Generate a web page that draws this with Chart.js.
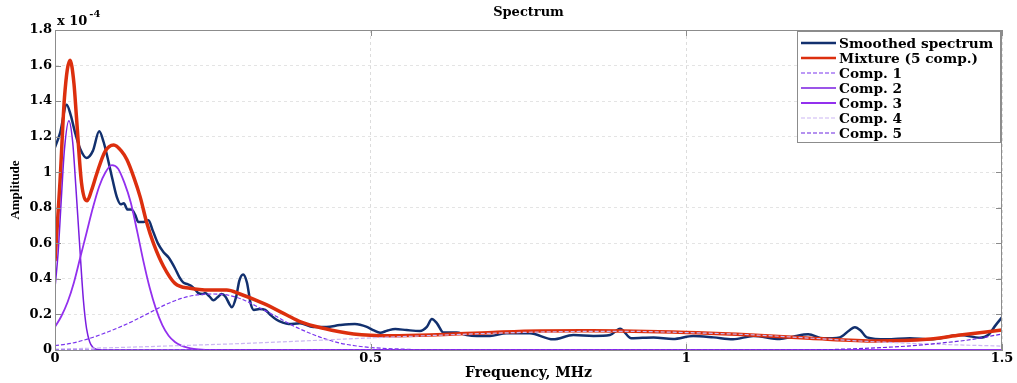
<!DOCTYPE html>
<html>
<head>
<meta charset="utf-8">
<script src="https://cdn.jsdelivr.net/npm/chart.js@4.4.1/dist/chart.umd.min.js"></script>
<style>
  html, body { margin: 0; padding: 0; background: #fff; }
  #wrap { width: 1017px; height: 383px; }
</style>
</head>
<body>
<div id="wrap"><canvas id="spectrumChart" width="1017" height="383"></canvas></div>
<script>
// values are in units of 1e-4 (see the "x 10^-4" note on the axis)
const yTickLabels = ['0', '0.2', '0.4', '0.6', '0.8', '1', '1.2', '1.4', '1.6', '1.8'];
const xTickLabels = ['0', '0.5', '1', '1.5'];

const spectrumFreq = [0, 0.008, 0.0185, 0.025, 0.032, 0.04, 0.05, 0.06, 0.07, 0.077, 0.084, 0.091, 0.098, 0.104, 0.109, 0.115, 0.121, 0.127, 0.132, 0.14, 0.148, 0.155, 0.163, 0.172, 0.18, 0.19, 0.197, 0.203, 0.21, 0.216, 0.222, 0.227, 0.233, 0.238, 0.245, 0.251, 0.257, 0.264, 0.27, 0.276, 0.28, 0.287, 0.292, 0.298, 0.304, 0.31, 0.315, 0.324, 0.333, 0.342, 0.351, 0.36, 0.37, 0.388, 0.409, 0.43, 0.451, 0.475, 0.494, 0.505, 0.515, 0.527, 0.539, 0.557, 0.578, 0.589, 0.597, 0.605, 0.615, 0.636, 0.652, 0.668, 0.689, 0.715, 0.752, 0.789, 0.821, 0.853, 0.879, 0.895, 0.913, 0.948, 0.979, 1.011, 1.043, 1.074, 1.106, 1.148, 1.169, 1.193, 1.217, 1.243, 1.258, 1.267, 1.276, 1.286, 1.317, 1.354, 1.386, 1.434, 1.465, 1.478, 1.49, 1.5];
const spectrumAmp = [1.14, 1.22, 1.38, 1.32, 1.22, 1.13, 1.08, 1.12, 1.23, 1.17, 1.07, 0.96, 0.86, 0.82, 0.825, 0.79, 0.79, 0.76, 0.72, 0.72, 0.73, 0.67, 0.6, 0.55, 0.52, 0.46, 0.41, 0.38, 0.37, 0.36, 0.34, 0.32, 0.315, 0.32, 0.3, 0.28, 0.295, 0.315, 0.3, 0.26, 0.24, 0.3, 0.39, 0.425, 0.38, 0.26, 0.225, 0.23, 0.225, 0.195, 0.17, 0.155, 0.146, 0.15, 0.13, 0.13, 0.14, 0.146, 0.13, 0.11, 0.097, 0.11, 0.118, 0.112, 0.107, 0.13, 0.174, 0.15, 0.099, 0.099, 0.084, 0.079, 0.079, 0.094, 0.094, 0.06, 0.084, 0.079, 0.084, 0.12, 0.066, 0.071, 0.062, 0.079, 0.071, 0.06, 0.079, 0.062, 0.075, 0.088, 0.066, 0.071, 0.11, 0.128, 0.11, 0.071, 0.06, 0.066, 0.06, 0.084, 0.069, 0.084, 0.14, 0.184];

const mixtureFreq = [0, 0.008, 0.015, 0.0238, 0.03, 0.034, 0.042, 0.051, 0.058, 0.066, 0.079, 0.093, 0.105, 0.114, 0.125, 0.135, 0.145, 0.156, 0.172, 0.19, 0.214, 0.246, 0.272, 0.293, 0.33, 0.367, 0.388, 0.425, 0.473, 0.531, 0.594, 0.694, 0.768, 0.85, 1.0, 1.08, 1.196, 1.302, 1.381, 1.434, 1.5];
const mixtureAmp = [0.5, 0.95, 1.42, 1.63, 1.5, 1.31, 0.94, 0.84, 0.9, 0.99, 1.115, 1.153, 1.12, 1.07, 0.97, 0.86, 0.72, 0.6, 0.47, 0.375, 0.347, 0.337, 0.337, 0.315, 0.262, 0.197, 0.16, 0.122, 0.09, 0.08, 0.084, 0.099, 0.107, 0.108, 0.099, 0.088, 0.066, 0.051, 0.06, 0.084, 0.112];

const comp1Freq = [0, 0.025, 0.05, 0.075, 0.1, 0.125, 0.15, 0.175, 0.2, 0.225, 0.25, 0.275, 0.3, 0.325, 0.35, 0.375, 0.4, 0.425, 0.45, 0.475, 0.5, 0.55, 0.6, 1.5];
const comp1Amp = [0.025, 0.037, 0.06, 0.09, 0.125, 0.165, 0.21, 0.255, 0.29, 0.31, 0.315, 0.308, 0.28, 0.235, 0.19, 0.14, 0.1, 0.066, 0.04, 0.024, 0.014, 0.005, 0, 0];

const comp2Freq = [0, 0.005, 0.01, 0.015, 0.022, 0.028, 0.033, 0.0385, 0.045, 0.05, 0.055, 0.06, 0.065, 0.075, 1.5];
const comp2Amp = [0.35, 0.55, 0.85, 1.13, 1.29, 1.17, 0.92, 0.62, 0.28, 0.12, 0.045, 0.015, 0.004, 0, 0];

const comp3Freq = [0, 0.01, 0.02, 0.03, 0.04, 0.05, 0.06, 0.07, 0.08, 0.09, 0.1, 0.11, 0.12, 0.13, 0.14, 0.15, 0.16, 0.17, 0.18, 0.19, 0.2, 0.21, 0.22, 0.24, 0.26, 1.5];
const comp3Amp = [0.13, 0.19, 0.27, 0.38, 0.52, 0.66, 0.8, 0.92, 1.0, 1.04, 1.02, 0.94, 0.83, 0.67, 0.5, 0.35, 0.23, 0.14, 0.08, 0.045, 0.025, 0.013, 0.006, 0.001, 0, 0];

const comp4Freq = [0, 0.1, 0.2, 0.3, 0.4, 0.5, 0.6, 0.7, 0.8, 0.9, 1.0, 1.1, 1.2, 1.3, 1.4, 1.5];
const comp4Amp = [0.005, 0.014, 0.025, 0.037, 0.052, 0.068, 0.082, 0.095, 0.103, 0.105, 0.098, 0.086, 0.066, 0.046, 0.032, 0.022];

const comp5Freq = [0, 1.2, 1.25, 1.3, 1.35, 1.4, 1.45, 1.5];
const comp5Amp = [0, 0, 0.005, 0.012, 0.022, 0.038, 0.058, 0.09];

function pairUp(xs, ys) {
  return xs.map((x, i) => ({ x: x, y: ys[i] }));
}

const serif = '"DejaVu Serif", "Liberation Serif", serif';

// box round the axes, inward ticks and the exponent note
const axesBox = {
  id: 'axesBox',
  afterDatasetsDraw(chart) {
    const { ctx, chartArea: a, scales } = chart;
    ctx.save();
    ctx.strokeStyle = '#8c8c8c';
    ctx.lineWidth = 1;
    ctx.strokeRect(a.left + 0.5, a.top + 0.5, a.right - a.left - 1, a.bottom - a.top);
    ctx.beginPath();
    scales.y.ticks.forEach(t => {
      const y = Math.round(scales.y.getPixelForValue(t.value)) + 0.5;
      ctx.moveTo(a.left, y); ctx.lineTo(a.left + 6, y);
      ctx.moveTo(a.right, y); ctx.lineTo(a.right - 6, y);
    });
    scales.x.ticks.forEach(t => {
      const x = Math.round(scales.x.getPixelForValue(t.value)) + 0.5;
      ctx.moveTo(x, a.bottom); ctx.lineTo(x, a.bottom - 6);
      ctx.moveTo(x, a.top); ctx.lineTo(x, a.top + 6);
    });
    ctx.stroke();

    ctx.fillStyle = '#000';
    ctx.textBaseline = 'alphabetic';
    ctx.font = 'bold 13px ' + serif;
    ctx.fillText('x 10', a.left + 2, a.top - 5);
    const w = ctx.measureText('x 10').width;
    ctx.font = 'bold 10px ' + serif;
    ctx.fillText('-4', a.left + 4 + w, a.top - 13);
    ctx.restore();
  }
};

const boxLegend = {
  id: 'boxLegend',
  afterDatasetsDraw(chart) {
    const { ctx, chartArea: a } = chart;
    const x0 = a.right - 205, y0 = a.top + 1, w = 203, h = 111;
    ctx.save();
    ctx.fillStyle = '#fff';
    ctx.fillRect(x0, y0, w, h);
    ctx.strokeStyle = '#8c8c8c';
    ctx.lineWidth = 1;
    ctx.strokeRect(x0 + 0.5, y0 + 0.5, w, h);
    ctx.font = 'bold 13.7px ' + serif;
    ctx.textBaseline = 'middle';
    chart.data.datasets.forEach((ds, i) => {
      const y = y0 + 12 + i * 15;
      ctx.beginPath();
      ctx.setLineDash(ds.borderDash || []);
      ctx.strokeStyle = ds.borderColor;
      ctx.lineWidth = Math.min(ds.borderWidth, 2.5);
      ctx.moveTo(x0 + 4, y);
      ctx.lineTo(x0 + 39, y);
      ctx.stroke();
      ctx.setLineDash([]);
      ctx.fillStyle = '#000';
      ctx.fillText(ds.label, x0 + 42, y + 1);
    });
    ctx.restore();
  }
};

const lineBase = { pointRadius: 0, fill: false, cubicInterpolationMode: 'monotone' };

new Chart(document.getElementById('spectrumChart'), {
  type: 'line',
  data: {
    datasets: [
      { ...lineBase, label: 'Smoothed spectrum', data: pairUp(spectrumFreq, spectrumAmp), borderColor: '#12306e', borderWidth: 2.5, order: 7 },
      { ...lineBase, label: 'Mixture (5 comp.)', data: pairUp(mixtureFreq, mixtureAmp), borderColor: '#dc2f0e', borderWidth: 3.5, order: 6 },
      { ...lineBase, label: 'Comp. 1', data: pairUp(comp1Freq, comp1Amp), borderColor: '#7b35ee', borderWidth: 1.2, borderDash: [4, 2], order: 5 },
      { ...lineBase, label: 'Comp. 2', data: pairUp(comp2Freq, comp2Amp), borderColor: '#7a1de0', borderWidth: 1.5, order: 4 },
      { ...lineBase, label: 'Comp. 3', data: pairUp(comp3Freq, comp3Amp), borderColor: '#9330ee', borderWidth: 1.8, order: 3 },
      { ...lineBase, label: 'Comp. 4', data: pairUp(comp4Freq, comp4Amp), borderColor: '#cbb6f3', borderWidth: 1.2, borderDash: [4, 2], order: 2 },
      { ...lineBase, label: 'Comp. 5', data: pairUp(comp5Freq, comp5Amp), borderColor: '#6a25e0', borderWidth: 1.2, borderDash: [4, 2], order: 1 }
    ]
  },
  options: {
    responsive: false,
    animation: false,
    layout: { padding: { left: 0, right: 15, top: 0, bottom: 0 } },
    plugins: {
      legend: { display: false },
      tooltip: { enabled: false },
      title: {
        display: true,
        text: 'Spectrum',
        fullSize: false,
        color: '#000',
        font: { family: serif, size: 13, weight: 'bold' },
        padding: { top: 5, bottom: 9.4 }
      }
    },
    scales: {
      x: {
        type: 'linear',
        min: 0,
        max: 1.5,
        afterFit: s => { s.height = 33; },
        ticks: {
          stepSize: 0.5,
          padding: 1,
          maxRotation: 0,
          color: '#000',
          font: { family: serif, size: 13, weight: 'bold' },
          callback: (v, i) => xTickLabels[i]
        },
        grid: { color: '#dcdcdc', drawTicks: false },
        border: { display: true, color: '#8c8c8c', dash: [3, 3] },
        title: {
          display: true,
          text: 'Frequency, MHz',
          color: '#000',
          font: { family: serif, size: 14, weight: 'bold' },
          padding: { top: 0, bottom: 1.6 }
        }
      },
      y: {
        min: 0,
        max: 1.8,
        afterFit: s => { s.width = 55; },
        ticks: {
          stepSize: 0.2,
          padding: 3,
          color: '#000',
          font: { family: serif, size: 13, weight: 'bold' },
          callback: (v, i) => yTickLabels[i]
        },
        grid: { color: '#e4e4e4', drawTicks: false },
        border: { display: true, color: '#8c8c8c', dash: [3, 3] },
        title: {
          display: true,
          text: 'Amplitude',
          color: '#000',
          font: { family: '"Liberation Serif", serif', size: 13, weight: 'bold' },
          padding: { top: 8, bottom: 0 }
        }
      }
    }
  },
  plugins: [axesBox, boxLegend]
});
</script>
</body>
</html>
